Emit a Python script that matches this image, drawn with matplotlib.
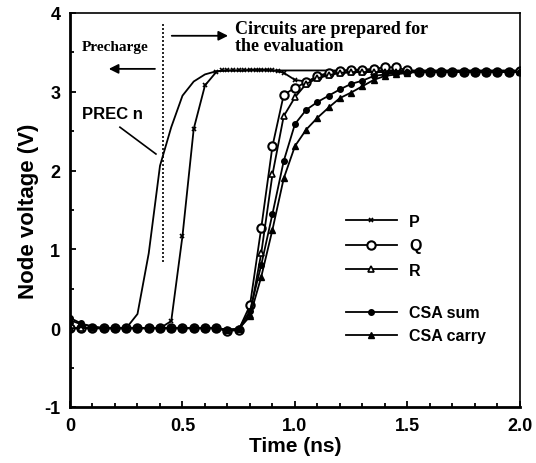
import matplotlib
matplotlib.use("Agg")
import matplotlib.pyplot as plt
import numpy as np
from matplotlib.ticker import MultipleLocator, FixedLocator

# time grid of the marked curves (ns)
t = np.arange(0, 2.001, 0.05)

# Q : open circles
q_v = [0.0, 0.0, 0.0, 0.0, 0.0, 0.0, 0.0, 0.0, 0.0, 0.0,
       0.0, 0.0, 0.0, 0.0, -0.04, -0.02, 0.29, 1.27, 2.31, 2.96,
       3.05, 3.12, 3.20, 3.24, 3.26, 3.28, 3.28, 3.29, 3.31, 3.31,
       3.27, 3.25, 3.25, 3.25, 3.25, 3.25, 3.25, 3.25, 3.25, 3.25, 3.26]

# R : open triangles
r_v = [0.0, 0.0, 0.0, 0.0, 0.0, 0.0, 0.0, 0.0, 0.0, 0.0,
       0.0, 0.0, 0.0, 0.0, -0.02, -0.01, 0.17, 0.95, 1.95, 2.69,
       2.93, 3.10, 3.17, 3.21, 3.24, 3.25, 3.25, 3.25, 3.25, 3.25,
       3.25, 3.25, 3.25, 3.25, 3.25, 3.25, 3.25, 3.25, 3.25, 3.25, 3.25]

# CSA sum : filled circles
sum_v = [0.13, 0.06, 0.02, 0.0, 0.0, 0.0, 0.0, 0.0, 0.0, 0.0,
         0.0, 0.0, 0.0, 0.0, -0.02, -0.01, 0.22, 0.80, 1.45, 2.12,
         2.59, 2.77, 2.87, 2.95, 3.03, 3.10, 3.14, 3.20, 3.22, 3.24,
         3.25, 3.25, 3.25, 3.25, 3.25, 3.25, 3.25, 3.25, 3.25, 3.25, 3.25]

# CSA carry : filled triangles
carry_v = [0.10, 0.05, 0.02, 0.0, 0.0, 0.0, 0.0, 0.0, 0.0, 0.0,
           0.0, 0.0, 0.0, 0.0, -0.02, -0.01, 0.15, 0.65, 1.25, 1.90,
           2.31, 2.52, 2.67, 2.80, 2.92, 2.99, 3.07, 3.15, 3.20, 3.22,
           3.24, 3.25, 3.25, 3.25, 3.25, 3.25, 3.25, 3.25, 3.25, 3.25, 3.25]

# P : crosses, denser samples on the plateau
p_t = [0, 0.05, 0.1, 0.15, 0.2, 0.25, 0.3, 0.35, 0.4, 0.45, 0.5, 0.55, 0.6, 0.65,
       0.675, 0.7, 0.725, 0.75, 0.775, 0.8, 0.825, 0.85, 0.875, 0.9, 0.925, 0.95,
       1.0, 1.05, 1.1, 1.15, 1.2, 1.3, 1.4, 1.5, 1.6, 1.7, 1.8, 1.9, 2.0]
p_v = [0, 0, 0, 0, 0, 0, 0, 0, 0, 0.09, 1.17, 2.53, 3.08, 3.25,
       3.27, 3.27, 3.27, 3.27, 3.27, 3.28, 3.28, 3.28, 3.28, 3.27, 3.26, 3.24,
       3.15, 3.13, 3.18, 3.22, 3.24, 3.25, 3.25, 3.25, 3.25, 3.25, 3.25, 3.25, 3.25]

# PREC n : plain line
prec_t = [0, 0.25, 0.3, 0.35, 0.4, 0.45, 0.5, 0.55, 0.6, 0.65, 0.7, 2.0]
prec_v = [0, 0, 0.18, 0.95, 2.06, 2.55, 2.95, 3.13, 3.22, 3.26, 3.27, 3.27]

plt.rcParams['font.family'] = ['Liberation Sans', 'DejaVu Sans']
plt.rcParams['font.weight'] = 'bold'
plt.rcParams['axes.unicode_minus'] = False

fig = plt.figure(figsize=(5.36, 4.64), dpi=100)
ax = fig.add_axes([0.1306, 0.1207, 0.8394, 0.8493])

lw = 1.3
ax.plot(prec_t, prec_v, color='black', lw=lw)
lp, = ax.plot(p_t, p_v, color='black', lw=lw, marker='x', ms=3.5, mew=1.2)
lq, = ax.plot(t, q_v, color='black', lw=lw, marker='o', ms=6, mfc='white', mew=1.5)
lr, = ax.plot(t, r_v, color='black', lw=lw, marker='^', ms=5, mfc='white', mew=1.2)
ls, = ax.plot(t, sum_v, color='black', lw=lw, marker='o', ms=4)
lc, = ax.plot(t, carry_v, color='black', lw=lw, marker='^', ms=4)

ax.set_xlim(0, 2.0)
ax.set_ylim(-1, 4)
ax.xaxis.set_major_locator(FixedLocator([0, 0.5, 1.0, 1.5, 2.0]))
ax.set_xticklabels(['0', '0.5', '1.0', '1.5', '2.0'])
ax.xaxis.set_minor_locator(MultipleLocator(0.1))
ax.yaxis.set_major_locator(MultipleLocator(1))
ax.yaxis.set_minor_locator(MultipleLocator(0.5))
ax.tick_params(which='both', direction='in', top=False, right=False,
               width=1.3, labelsize=13)
ax.tick_params(which='major', length=4, pad=7)
ax.tick_params(which='minor', length=3)
for s in ['left', 'bottom']:
    ax.spines[s].set_linewidth(2)
for s in ['top', 'right']:
    ax.spines[s].set_linewidth(1.2)

ax.set_xlabel('Time (ns)', fontsize=15, fontweight='bold', labelpad=2)
ax.set_ylabel('Node voltage (V)', fontsize=16, fontweight='bold', labelpad=4)

# precharge boundary
ax.plot([0.413, 0.413], [0.84, 3.88], color='black', lw=1.2, ls=(0, (1.2, 1.2)))

serif = ['Liberation Serif', 'DejaVu Serif']
ax.text(0.053, 3.57, 'Precharge', family=serif, fontsize=11, fontweight='bold',
        va='center', ha='left')
ax.annotate('', xy=(0.16, 3.29), xytext=(0.39, 3.29),
            arrowprops=dict(arrowstyle='-|>', color='black', lw=1.3, mutation_scale=14))
ax.annotate('', xy=(0.715, 3.71), xytext=(0.44, 3.71),
            arrowprops=dict(arrowstyle='-|>', color='black', lw=1.3, mutation_scale=14))
ax.text(0.733, 3.70, 'Circuits are prepared for\nthe evaluation', family=serif,
        fontsize=13, fontweight='bold', va='center', ha='left', linespacing=1.0)

ax.text(0.053, 2.72, 'PREC n', fontsize=12, fontweight='bold', va='center', ha='left')
ax.plot([0.222, 0.382], [2.55, 2.21], color='black', lw=1.2)

leg1 = ax.legend([lp, lq, lr], ['P', 'Q', 'R'], loc='upper left',
                 bbox_to_anchor=(0.613, 0.49), frameon=False, fontsize=11.5,
                 handlelength=3.2, handletextpad=0.75, labelspacing=0.6,
                 borderpad=0, borderaxespad=0)
ax.add_artist(leg1)
ax.legend([ls, lc], ['CSA sum', 'CSA carry'], loc='upper left',
          bbox_to_anchor=(0.613, 0.258), frameon=False, fontsize=11.5,
          handlelength=3.2, handletextpad=0.75, labelspacing=0.5,
          borderpad=0, borderaxespad=0)

fig.savefig('out.png', dpi=100)
